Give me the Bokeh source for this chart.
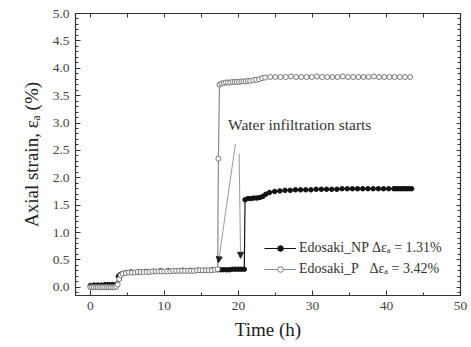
from bokeh.plotting import figure
from bokeh.models import (LinearAxis, SingleIntervalTicker, Range1d, Legend, LegendItem,
                          Arrow, NormalHead, Label, PrintfTickFormatter, CustomJSTickFormatter)
from bokeh.embed import file_html
from bokeh.resources import INLINE

FONT = "Liberation Serif"

# ---- data ----
np_time = [0, 0.5, 1, 1.5, 2, 2.5, 3, 3.5, 3.8, 4.0, 4.3,
           4.8, 5.5, 6.5, 7.5, 8.5, 9.5, 10.5, 11.5, 12.5, 13.5, 14.5, 15.5, 16.5, 17.2,
           17.6, 18.0, 18.4, 18.8, 19.2, 19.6, 20.0, 20.4, 20.8,
           20.9, 21.3, 21.7, 22.1, 22.5, 22.9, 23.3,
           23.7, 24.2, 24.9, 25.6, 26.3, 27.0, 27.7, 28.4, 29.1, 29.8, 30.5, 31.2, 31.9,
           32.6, 33.3, 34.0, 34.7, 35.4, 36.1, 36.8, 37.5, 38.2, 38.9, 39.6, 40.3, 41.0,
           41.3, 41.6, 41.9, 42.2, 42.5, 42.8, 43.1, 43.4]
np_strain = [0.03, 0.04, 0.04, 0.04, 0.05, 0.05, 0.05, 0.05, 0.20, 0.23, 0.25,
             0.27, 0.28, 0.28, 0.29, 0.29, 0.30, 0.30, 0.30, 0.31, 0.31, 0.31, 0.31, 0.32, 0.32,
             0.32, 0.32, 0.32, 0.32, 0.33, 0.33, 0.33, 0.33, 0.33,
             1.60, 1.62, 1.62, 1.63, 1.63, 1.64, 1.66,
             1.70, 1.73, 1.75, 1.76, 1.77, 1.77, 1.78, 1.78, 1.78, 1.78, 1.79, 1.79, 1.79,
             1.79, 1.79, 1.80, 1.80, 1.80, 1.80, 1.80, 1.80, 1.80, 1.80, 1.80, 1.80, 1.80,
             1.80, 1.80, 1.80, 1.80, 1.80, 1.80, 1.80, 1.80]

p_time = [0, 0.25, 0.5, 0.75, 1.0, 1.25, 1.5, 1.75, 2.0, 2.25, 2.5, 2.75, 3.0, 3.25, 3.5,
          3.7, 3.9, 4.1, 4.4,
          4.8, 5.2, 5.6, 6.0, 6.4, 6.8, 7.2, 7.6, 8.0, 8.4, 8.8, 9.2, 9.6, 10.0, 10.4, 10.8,
          11.2, 11.6, 12.0, 12.4, 12.8, 13.2, 13.6, 14.0, 14.4, 14.8, 15.2, 15.6, 16.0, 16.4, 16.8,
          17.2, 17.3, 17.45,
          17.7, 18.0, 18.3, 18.6, 18.9, 19.2, 19.5, 19.8, 20.1, 20.4, 20.7, 21.0, 21.3, 21.6,
          22.0, 22.4, 22.8, 23.2, 23.6,
          24.3, 25.0, 25.7, 26.4, 27.1, 27.8, 28.5, 29.2, 29.9, 30.6, 31.3, 32.0, 32.7, 33.4,
          34.1, 34.8, 35.5, 36.2, 36.9, 37.6, 38.3, 39.0, 39.7, 40.4, 41.1, 41.8, 42.5, 43.2]
p_strain = [0.00, 0.00, 0.00, 0.00, 0.00, 0.00, 0.00, 0.00, 0.00, 0.00, 0.00, 0.00, 0.00, 0.00, 0.01,
            0.05, 0.15, 0.22, 0.25,
            0.26, 0.27, 0.27, 0.27, 0.28, 0.28, 0.28, 0.28, 0.28, 0.29, 0.29, 0.29, 0.29, 0.29,
            0.29, 0.29, 0.30, 0.30, 0.30, 0.30, 0.30, 0.30, 0.30, 0.30, 0.31, 0.31, 0.31, 0.31,
            0.31, 0.31, 0.32,
            0.33, 2.35, 3.70,
            3.72, 3.73, 3.74, 3.74, 3.74, 3.75, 3.75, 3.75, 3.75, 3.76, 3.76, 3.76, 3.77, 3.77,
            3.78, 3.79, 3.80, 3.82, 3.83,
            3.84, 3.84, 3.84, 3.84, 3.85, 3.84, 3.84, 3.84, 3.84, 3.85, 3.84, 3.84, 3.84, 3.84,
            3.85, 3.84, 3.84, 3.84, 3.84, 3.84, 3.85, 3.84, 3.84, 3.84, 3.84, 3.84, 3.84, 3.84]

labels = ["Edosaki_NP \u0394\u03b5\u2090 = 1.31%",
          "Edosaki_P\u00a0\u00a0\u00a0\u0394\u03b5\u2090 = 3.42%"]
annotation_text = "Water infiltration starts"
# arrows: (x_start, y_start, x_end, y_end) in data units
arrow1 = (19.6, 2.62, 17.3, 0.45)
arrow2 = (20.1, 2.44, 20.3, 0.53)

AX = "#333333"

p = figure(width=471, height=347, output_backend="svg", toolbar_location=None,
           x_range=Range1d(-2, 50), y_range=Range1d(-0.15, 5.0),
           min_border_left=75, min_border_right=11, min_border_top=13, min_border_bottom=52,
           x_axis_label="Time (h)", y_axis_label="Axial strain, \u03b5\u2090 (%)")
p.grid.visible = False
p.outline_line_color = AX
p.outline_line_width = 1.2

p.xaxis.ticker = SingleIntervalTicker(interval=10, num_minor_ticks=2)
p.yaxis.ticker = SingleIntervalTicker(interval=0.5, num_minor_ticks=5)
p.yaxis.formatter = PrintfTickFormatter(format="%.1f")

for ax in (p.xaxis[0], p.yaxis[0]):
    ax.major_tick_in = 5
    ax.major_tick_out = 0
    ax.minor_tick_in = 3
    ax.minor_tick_out = 0
    ax.axis_line_color = AX
    ax.major_tick_line_color = AX
    ax.minor_tick_line_color = AX
    ax.major_label_text_font = FONT
    ax.major_label_text_font_size = "13.5px"
    ax.major_label_text_color = "#444444"
    ax.axis_label_text_font = FONT
    ax.axis_label_text_font_size = "19px"
    ax.axis_label_text_font_style = "normal"
    ax.axis_label_text_color = "#222222"
    ax.major_label_standoff = 6
p.xaxis.axis_label_standoff = 6
p.yaxis.axis_label_standoff = 8

top = LinearAxis(ticker=SingleIntervalTicker(interval=5, num_minor_ticks=0))
right = LinearAxis(ticker=SingleIntervalTicker(interval=0.5, num_minor_ticks=5))
for ax in (top, right):
    ax.major_tick_in = 4
    ax.major_tick_out = 0
    ax.minor_tick_in = 3
    ax.minor_tick_out = 0
    ax.axis_line_color = AX
    ax.major_tick_line_color = AX
    ax.minor_tick_line_color = AX
    ax.formatter = CustomJSTickFormatter(code="return ''")
    ax.major_label_standoff = 0
p.add_layout(top, "above")
p.add_layout(right, "right")

# series
l_np = p.line(np_time, np_strain, line_color="#111111", line_width=1.2)
s_np = p.scatter(np_time, np_strain, marker="circle", size=4.5,
                 fill_color="#111111", line_color="#111111")
l_p = p.line(p_time, p_strain, line_color="#8a8a8a", line_width=1.2)
s_p = p.scatter(p_time, p_strain, marker="circle", size=5,
                fill_color="white", line_color="#777777", line_width=1)

# annotation
p.add_layout(Label(x=18.6, y=2.82, text=annotation_text, text_font=FONT,
                   text_font_size="15.5px", text_color="#333333", text_baseline="bottom"))
for (x0, y0, x1, y1) in (arrow1, arrow2):
    p.add_layout(Arrow(x_start=x0, y_start=y0, x_end=x1, y_end=y1,
                       line_color="#999999", line_width=1,
                       end=NormalHead(size=6, fill_color="#222222", line_color="#222222")))

legend = Legend(items=[LegendItem(label=labels[0], renderers=[l_np, s_np]),
                       LegendItem(label=labels[1], renderers=[l_p, s_p])],
                location=(189, 18), border_line_color=None, background_fill_alpha=0,
                label_text_font=FONT, label_text_font_size="14px",
                label_text_color="#333333", glyph_width=32, glyph_height=14,
                spacing=5, padding=2, margin=0, label_standoff=3)
p.add_layout(legend, "center")

open("out.html", "w").write(file_html(p, INLINE))
